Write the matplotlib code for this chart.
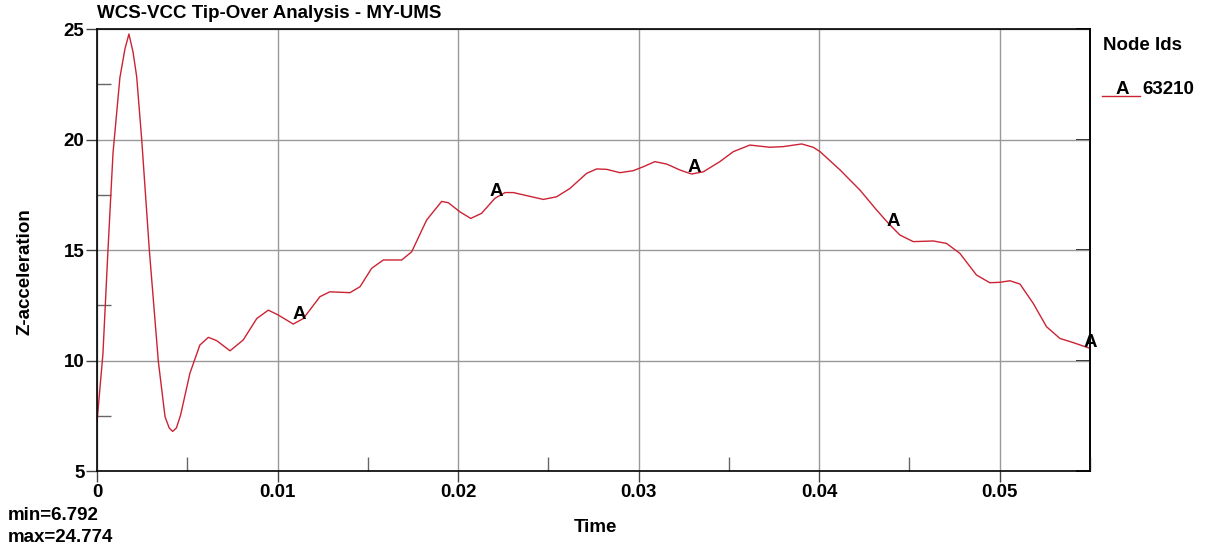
import numpy as np
import matplotlib.pyplot as plt
from matplotlib.ticker import MultipleLocator, FuncFormatter

plt.rcParams['font.family'] = ['Liberation Sans', 'DejaVu Sans']
plt.rcParams['font.weight'] = 'bold'

# Z-acceleration of node 63210 over time
time = [0.0, 0.00033, 0.00061, 0.00089, 0.00127, 0.00155, 0.00177, 0.00200, 0.0022,
        0.00248, 0.0029, 0.0034, 0.00377, 0.00400, 0.00419, 0.00440, 0.00463, 0.00515,
        0.0057, 0.00617, 0.00663, 0.00737, 0.0081, 0.00885, 0.00949, 0.01004, 0.01087,
        0.01143, 0.01235, 0.0129, 0.01401, 0.01457, 0.01521, 0.01586, 0.01688, 0.01743,
        0.01826, 0.01909, 0.01946, 0.0201, 0.0207, 0.0213, 0.02204, 0.0226, 0.02306,
        0.02472, 0.02546, 0.0262, 0.02712, 0.02768, 0.02823, 0.02897, 0.0297, 0.03026,
        0.0309, 0.03155, 0.03229, 0.03293, 0.03358, 0.0345, 0.03524, 0.03616, 0.03727,
        0.03801, 0.03903, 0.03967, 0.04005, 0.04116, 0.04226, 0.04318, 0.04383, 0.04447,
        0.04521, 0.04632, 0.04705, 0.04779, 0.04871, 0.04945, 0.05001, 0.05056, 0.05112,
        0.05185, 0.05259, 0.05333, 0.05407, 0.055]
z_acc = [7.2, 10.3, 15.0, 19.4, 22.8, 24.1, 24.774, 23.95, 22.84,
         19.98, 15.0, 9.95, 7.46, 6.95, 6.792, 6.95, 7.53, 9.43,
         10.7, 11.05, 10.9, 10.44, 10.93, 11.9, 12.28, 12.06, 11.65,
         11.9, 12.89, 13.11, 13.07, 13.34, 14.17, 14.55, 14.55, 14.92,
         16.36, 17.2, 17.14, 16.73, 16.43, 16.66, 17.34, 17.6, 17.6,
         17.29, 17.41, 17.79, 18.47, 18.67, 18.65, 18.5, 18.59, 18.77,
         19.0, 18.89, 18.62, 18.44, 18.54, 19.0, 19.45, 19.75, 19.65,
         19.68, 19.8, 19.65, 19.45, 18.62, 17.71, 16.81, 16.21, 15.68,
         15.38, 15.41, 15.3, 14.85, 13.87, 13.52, 13.54, 13.61, 13.46,
         12.59, 11.53, 11.0, 10.81, 10.55]

# curve symbol positions
symbol_t = [0.0112, 0.0221, 0.0331, 0.0441, 0.055]
node_id = '63210'

line_color = '#cc2233'
fs = 13.5

fig = plt.figure(figsize=(12.09, 5.5), dpi=100)
ax = fig.add_axes([0.0802, 0.1436, 0.8214, 0.8036])

ax.plot(time, z_acc, color=line_color, linewidth=1.0)

for t in symbol_t:
    v = np.interp(t, time, z_acc)
    ax.annotate('A', (t, v), xytext=(0, 4.5), textcoords='offset points',
                fontsize=fs, fontweight='bold', ha='center', va='center',
                annotation_clip=False)

ax.set_xlim(0, 0.055)
ax.set_ylim(5, 25)
ax.xaxis.set_major_locator(MultipleLocator(0.01))
ax.xaxis.set_minor_locator(MultipleLocator(0.005))
ax.yaxis.set_major_locator(MultipleLocator(5))
ax.yaxis.set_minor_locator(MultipleLocator(2.5))
ax.xaxis.set_major_formatter(FuncFormatter(lambda x, p: '0' if abs(x) < 1e-9 else '%g' % round(x, 3)))
ax.yaxis.set_major_formatter(FuncFormatter(lambda y, p: '%d' % round(y)))

ax.grid(True, which='major', color='#999999', linewidth=1.0)
ax.tick_params(which='major', direction='out', length=8, width=1, color='#444444',
               labelsize=fs, pad=1)
ax.tick_params(which='minor', direction='in', length=10, width=1, color='#666666')
for s in ax.spines.values():
    s.set_color('black')
    s.set_linewidth(1.2)

# inward ticks on the right edge
right = ax.secondary_yaxis('right')
right.yaxis.set_major_locator(MultipleLocator(5))
right.tick_params(direction='in', length=10, width=1.2, color='black', labelright=False)
right.spines['right'].set_linewidth(1.2)

fig.text(595 / 1209, 1 - 527 / 550, 'Time', fontsize=fs, fontweight='bold',
         ha='center', va='center')
fig.text(25 / 1209, 1 - 272 / 550, 'Z-acceleration', fontsize=fs, fontweight='bold',
         ha='center', va='center', rotation=90)

fig.text(97 / 1209, 1 - 13 / 550, 'WCS-VCC Tip-Over Analysis - MY-UMS', fontsize=fs,
         fontweight='bold', va='center', ha='left')

# min / max summary
fig.text(8 / 1209, 1 - 515 / 550, 'min=%.3f' % min(z_acc), fontsize=fs,
         fontweight='bold', va='center')
fig.text(8 / 1209, 1 - 537 / 550, 'max=%.3f' % max(z_acc), fontsize=fs,
         fontweight='bold', va='center')

# node legend
fig.text(1103 / 1209, 1 - 45 / 550, 'Node Ids', fontsize=fs, fontweight='bold',
         va='center')
fig.lines.append(plt.Line2D([1102 / 1209, 1140 / 1209], [1 - 96 / 550, 1 - 96 / 550],
                            transform=fig.transFigure, color=line_color, linewidth=1.0))
fig.text(1122 / 1209, 1 - 89 / 550, 'A', fontsize=fs, fontweight='bold', va='center',
         ha='center')
fig.text(1142 / 1209, 1 - 89 / 550, node_id, fontsize=fs, fontweight='bold', va='center')

fig.savefig('out.png', dpi=100)
